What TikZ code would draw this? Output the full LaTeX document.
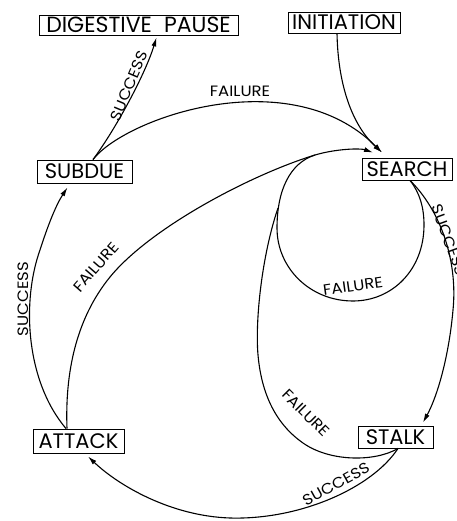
\documentclass[tikz,border=0pt]{standalone}
\usepackage{fontspec}
\setmainfont{Poppins}
\newfontfamily\labfont[FakeStretch=1.1]{Poppins}
\usetikzlibrary{arrows.meta}
\tikzset{
  box/.style={draw, line width=0.9pt, inner sep=0pt, font=\fontsize{21}{21}\selectfont},
  edge/.style={line width=1.1pt},
  arr/.style={edge, -{Latex[length=9pt,width=5pt]}},
  lab/.style={inner sep=0pt, font=\labfont\fontsize{15}{15}\selectfont}
}
\begin{document}
\begin{tikzpicture}[x=1pt,y=-1pt]
\useasboundingbox (0,0) rectangle (456,521);
% boxes
\node[box, minimum width=199pt, minimum height=20pt, font=\fontsize{22}{22}\selectfont] (dig) at (138.5,25) {DIGESTIVE\hspace{0.55em}PAUSE};
\node[box, minimum width=112pt, minimum height=21pt] (init) at (344,22.5) {INITIATION};
\node[box, minimum width=95pt, minimum height=23pt] (sub) at (84.5,171.5) {SUBDUE};
\node[box, minimum width=90pt, minimum height=22pt] (sea) at (407,169) {SEARCH};
\node[box, minimum width=91pt, minimum height=24pt] (att) at (78.5,441) {ATTACK};
\node[box, minimum width=75pt, minimum height=22pt] (stk) at (395.5,437) {STALK};
% subdue -> digestive pause (success)
\draw[arr] ([xshift=8.5pt]sub.north) .. controls (115,130) and (145,75) .. ([xshift=18pt,yshift=-2pt]dig.south);
% subdue -> search (failure)
\draw[arr] ([xshift=8.5pt]sub.north) .. controls (125,118) and (290,60) .. ([xshift=-25pt,yshift=5pt]sea.north);
% initiation -> search
\draw[arr] ([xshift=-7pt]init.south) .. controls (338,85) and (352,125) .. ([xshift=-25pt,yshift=5pt]sea.north);
% attack -> search (failure)
\draw[arr] ([xshift=-11.5pt]att.north) .. controls (65,375) and (75,320) .. (110,277)
  .. controls (150,228) and (250,175) .. (315,155)
  .. controls (335,149) and (360,148) .. ([xshift=-34pt,yshift=5pt]sea.north);
% attack -> subdue (success)
\draw[arr] ([xshift=-12.5pt]att.north) .. controls (25,380) and (22,300) .. (40,250)
  .. controls (48,225) and (56,205) .. ([xshift=-17pt,yshift=-4pt]sub.south);
% search loop (failure)
\draw[edge] ([xshift=3pt]sea.south) .. controls (420,193) and (424,208) .. (424,225)
  .. controls (424,270) and (392,301) .. (353,301)
  .. controls (310,301) and (277,268) .. (277,228)
  .. controls (277,190) and (290,163) .. (315,155);
% search -> stalk (success)
\draw[arr] ([xshift=3pt]sea.south) .. controls (440,210) and (458,260) .. (453,310)
  .. controls (449,355) and (438,395) .. ([xshift=27.5pt,yshift=3pt]stk.north);
% stalk -> search (failure)
\draw[edge] ([xshift=2.5pt]stk.south) .. controls (375,462) and (330,462) .. (303,443)
  .. controls (280,427) and (262,400) .. (258,355)
  .. controls (255,320) and (262,255) .. (278,208);
% stalk -> attack (success)
\draw[arr] ([xshift=2.5pt]stk.south) .. controls (372,488) and (300,520) .. (230,518)
  .. controls (170,516) and (118,485) .. ([xshift=9.5pt,yshift=-3pt]att.south);
% labels
\node[lab, rotate=67] (l1) at (129,86) {SUCCESS};
\node[lab] (l2) at (240,91) {FAILURE};
\node[lab, rotate=49] (l3) at (96,267) {FAILURE};
\node[lab, rotate=90] (l4) at (23,299) {SUCCESS};
\node[lab, rotate=8] (l5) at (353,286) {FAILURE};
\node[lab, rotate=-70] (l6) at (449,240) {SUCCESS};
\node[lab, rotate=-45] (l7) at (306,413) {FAILURE};
\node[lab, rotate=29] (l8) at (336,484) {SUCCESS};
\end{tikzpicture}
\end{document}
